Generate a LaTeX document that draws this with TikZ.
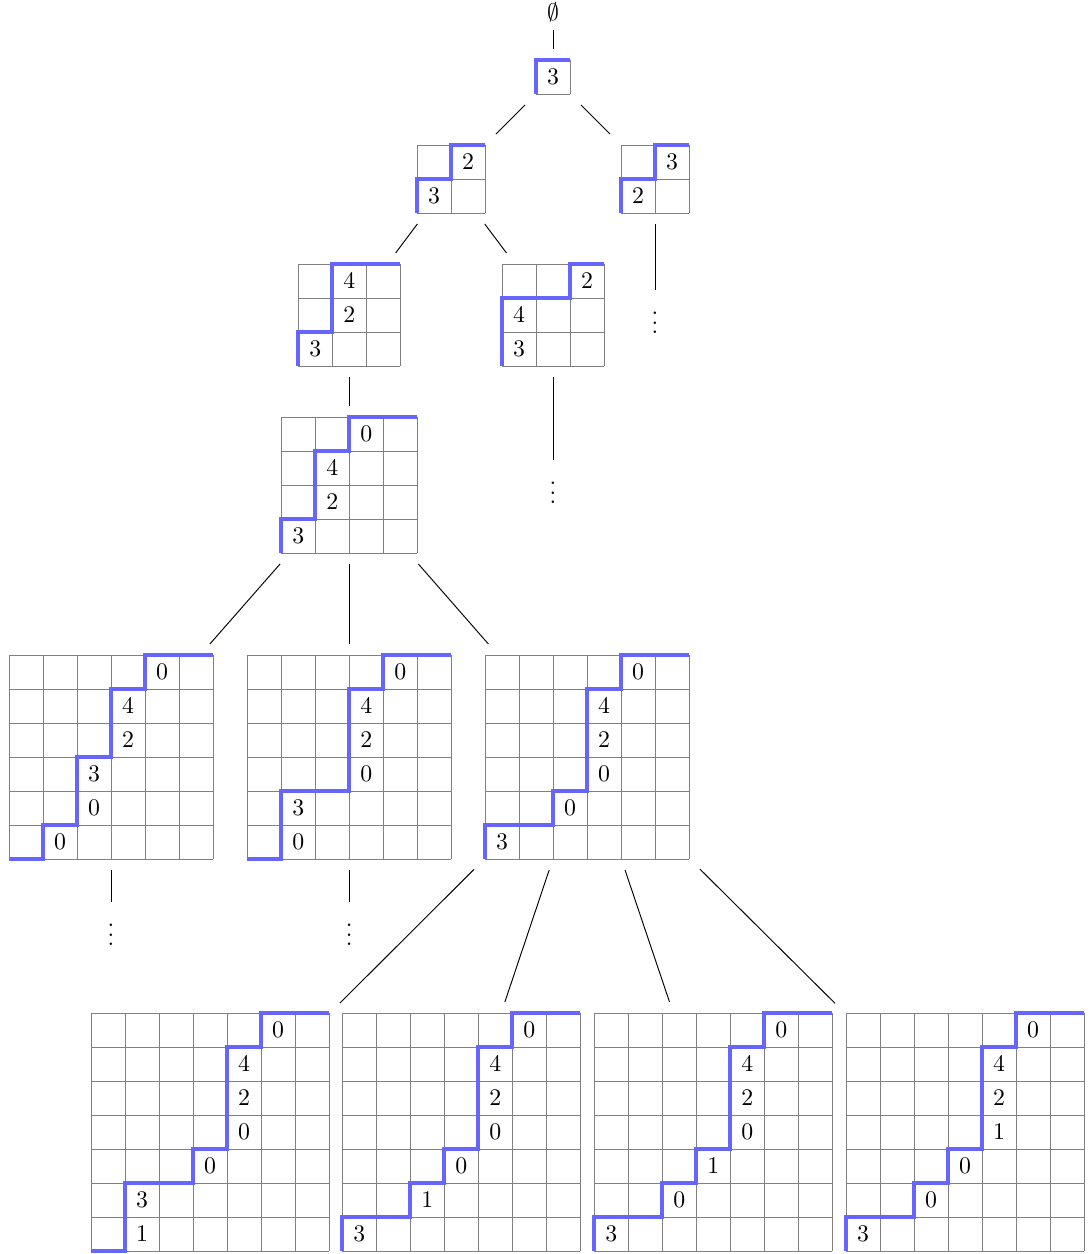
\documentclass[tikz,border=0pt]{standalone}
\usepackage{tikz}
\tikzset{
  gbox/.style={draw=none, inner sep=0pt, minimum size={(34*#1+21)*0.42pt}},
  gridln/.style={draw=gray, line width=0.4pt},
  bluepath/.style={draw=blue!60, line width=1.6pt},
  lab/.style={inner sep=0pt, font=\normalsize},
  conn/.style={draw=black, line width=0.4pt},
  dotnode/.style={inner sep=0.3333em},
}
\newcommand\ytab[5]{%
  \node[gbox=#3] (#1) at #2 {};
  \begin{scope}[shift={(#1.center)}, x=14.28pt, y=14.28pt, shift={(-#3/2,-#3/2)}]
    \foreach \k in {0,...,#3} {
      \draw[gridln] (\k,0) -- (\k,#3);
      \draw[gridln] (0,\k) -- (#3,\k);
    }
    \draw[bluepath] #4;
    \foreach \i/\j/\v in {#5} \node[lab] at (\i+0.5,\j+0.5) {$\v$};
  \end{scope}%
}
\begin{document}
\begin{tikzpicture}[x=0.42pt, y=-0.42pt]
\useasboundingbox (0,0) rectangle (1091,1254);

\node (root) at (553,12) {$\emptyset$};

\ytab{gA}{(553,77)}{1}{(0,0) -- (0,1) -- (1,1)}{0/0/3}
\ytab{gBa}{(451,179)}{2}{(0,0) -- (0,1) -- (1,1) -- (1,2) -- (2,2)}{0/0/3, 1/1/2}
\ytab{gBb}{(655,179)}{2}{(0,0) -- (0,1) -- (1,1) -- (1,2) -- (2,2)}{0/0/2, 1/1/3}
\ytab{gCa}{(349.3,315)}{3}{(0,0) -- (0,1) -- (1,1) -- (1,3) -- (3,3)}{0/0/3, 1/1/2, 1/2/4}
\ytab{gCb}{(553,315)}{3}{(0,0) -- (0,2) -- (2,2) -- (2,3) -- (3,3)}{0/0/3, 0/1/4, 2/2/2}
\ytab{gD}{(349.3,485)}{4}{(0,0) -- (0,1) -- (1,1) -- (1,3) -- (2,3) -- (2,4) -- (4,4)}{0/0/3, 1/1/2, 1/2/4, 2/3/0}
\ytab{gEa}{(111,757)}{6}{(0,0) -- (1,0) -- (1,1) -- (2,1) -- (2,3) -- (3,3) -- (3,5) -- (4,5) -- (4,6) -- (6,6)}{1/0/0, 2/1/0, 2/2/3, 3/3/2, 3/4/4, 4/5/0}
\ytab{gEb}{(349.3,757)}{6}{(0,0) -- (1,0) -- (1,2) -- (3,2) -- (3,5) -- (4,5) -- (4,6) -- (6,6)}{1/0/0, 1/1/3, 3/2/0, 3/3/2, 3/4/4, 4/5/0}
\ytab{gEc}{(587,757)}{6}{(0,0) -- (0,1) -- (2,1) -- (2,2) -- (3,2) -- (3,5) -- (4,5) -- (4,6) -- (6,6)}{0/0/3, 2/1/0, 3/2/0, 3/3/2, 3/4/4, 4/5/0}
\ytab{gFa}{(210,1132)}{7}{(0,0) -- (1,0) -- (1,2) -- (3,2) -- (3,3) -- (4,3) -- (4,6) -- (5,6) -- (5,7) -- (7,7)}{1/0/1, 1/1/3, 3/2/0, 4/3/0, 4/4/2, 4/5/4, 5/6/0}
\ytab{gFb}{(461.3,1132)}{7}{(0,0) -- (0,1) -- (2,1) -- (2,2) -- (3,2) -- (3,3) -- (4,3) -- (4,6) -- (5,6) -- (5,7) -- (7,7)}{0/0/3, 2/1/1, 3/2/0, 4/3/0, 4/4/2, 4/5/4, 5/6/0}
\ytab{gFc}{(713.3,1132)}{7}{(0,0) -- (0,1) -- (2,1) -- (2,2) -- (3,2) -- (3,3) -- (4,3) -- (4,6) -- (5,6) -- (5,7) -- (7,7)}{0/0/3, 2/1/0, 3/2/1, 4/3/0, 4/4/2, 4/5/4, 5/6/0}
\ytab{gFd}{(965,1132)}{7}{(0,0) -- (0,1) -- (2,1) -- (2,2) -- (3,2) -- (3,3) -- (4,3) -- (4,6) -- (5,6) -- (5,7) -- (7,7)}{0/0/3, 2/1/0, 3/2/0, 4/3/1, 4/4/2, 4/5/4, 5/6/0}

\node[dotnode] (d1) at (655,316) {$\vdots$};
\node[dotnode] (d2) at (553,486) {$\vdots$};
\node[dotnode] (d3) at (111,928) {$\vdots$};
\node[dotnode] (d4) at (349.3,928) {$\vdots$};

\draw[conn] (root) -- (gA);
\draw[conn] (gA) -- (gBa);
\draw[conn] (gA) -- (gBb);
\draw[conn] (gBa) -- (gCa);
\draw[conn] (gBa) -- (gCb);
\draw[conn] (gBb) -- (d1);
\draw[conn] (gCa) -- (gD);
\draw[conn] (gCb) -- (d2);
\draw[conn] (gD) -- (gEa);
\draw[conn] (gD) -- (gEb);
\draw[conn] (gD) -- (gEc);
\draw[conn] (gEa) -- (d3);
\draw[conn] (gEb) -- (d4);
\draw[conn] (gEc) -- (gFa);
\draw[conn] (gEc) -- (gFb);
\draw[conn] (gEc) -- (gFc);
\draw[conn] (gEc) -- (gFd);
\end{tikzpicture}
\end{document}
